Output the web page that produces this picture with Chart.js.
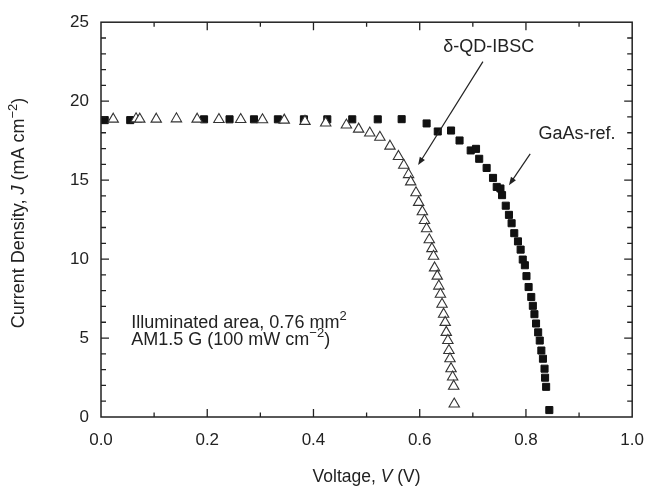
<!DOCTYPE html>
<html>
<head>
<meta charset="utf-8">
<script src="https://cdn.jsdelivr.net/npm/chart.js@4/dist/chart.umd.min.js"></script>
<style>
  body { margin: 0; background: #fff; }
  #wrap { width: 657px; height: 490px; }
</style>
</head>
<body>
<div id="wrap"><canvas id="ivChart"></canvas></div>
<script>
// delta-QD-IBSC (open triangles)
const qdV = [0.023, 0.066, 0.073, 0.104, 0.142, 0.181, 0.222, 0.263, 0.304, 0.345, 0.384, 0.423,
  0.462, 0.485, 0.506, 0.525, 0.544, 0.560, 0.570, 0.579, 0.583, 0.593, 0.598, 0.605, 0.609,
  0.613, 0.618, 0.623, 0.626, 0.628, 0.633, 0.636, 0.639, 0.642, 0.645, 0.648, 0.650, 0.653,
  0.655, 0.657, 0.659, 0.662, 0.664, 0.665];
const qdJ = [18.86, 18.88, 18.86, 18.86, 18.88, 18.86, 18.84, 18.84, 18.82, 18.80, 18.72, 18.62,
  18.49, 18.23, 17.98, 17.71, 17.15, 16.50, 15.94, 15.35, 14.89, 14.20, 13.59, 13.00, 12.44,
  11.92, 11.22, 10.66, 10.18, 9.44, 8.92, 8.29, 7.77, 7.14, 6.51, 5.99, 5.36, 4.84,
  4.21, 3.69, 3.06, 2.53, 1.95, 0.82];

// GaAs reference (filled squares)
const gaasV = [0.007, 0.055, 0.194, 0.242, 0.288, 0.333, 0.382, 0.426, 0.473, 0.521, 0.566, 0.613,
  0.634, 0.659, 0.675, 0.696, 0.706, 0.712, 0.726, 0.738, 0.745, 0.752, 0.755, 0.762, 0.768,
  0.773, 0.778, 0.785, 0.790, 0.794, 0.798, 0.801, 0.805, 0.810, 0.813, 0.816, 0.819, 0.823,
  0.826, 0.829, 0.832, 0.835, 0.836, 0.838, 0.844];
const gaasJ = [18.80, 18.80, 18.85, 18.85, 18.85, 18.85, 18.85, 18.85, 18.85, 18.85, 18.86, 18.59,
  18.08, 18.14, 17.51, 16.88, 16.98, 16.35, 15.77, 15.14, 14.57, 14.47, 14.05, 13.38, 12.80,
  12.27, 11.64, 11.12, 10.60, 9.97, 9.61, 8.92, 8.23, 7.60, 7.04, 6.51, 5.92, 5.36,
  4.84, 4.21, 3.69, 3.06, 2.49, 1.91, 0.44];

// axis ranges / ticks
const xMin = 0, xMax = 1.0, xStep = 0.2, xMinor = 0.1;
const yMin = 0, yMax = 25, yStep = 5, yMinor = 1;

const FONT = "'Liberation Sans', Arial, Helvetica, sans-serif";
const INK = '#222';

const toPts = (xs, ys) => xs.map((v, i) => ({ x: v, y: ys[i] }));

function partFont(p, size) {
  const s = p.sup ? Math.round(size * 0.7) : size;
  return (p.it ? 'italic ' : '') + s + 'px ' + FONT;
}

function richText(ctx, parts, x, y, align, size) {
  let w = 0;
  parts.forEach(p => { ctx.font = partFont(p, size); w += ctx.measureText(p.t).width; });
  let cx = align === 'center' ? x - w / 2 : x;
  ctx.textAlign = 'left';
  ctx.textBaseline = 'middle';
  parts.forEach(p => {
    ctx.font = partFont(p, size);
    ctx.fillText(p.t, cx, p.sup ? y - size * 0.33 : y);
    cx += ctx.measureText(p.t).width;
  });
}

function arrow(ctx, x1, y1, x2, y2) {
  const ang = Math.atan2(y2 - y1, x2 - x1);
  const hl = 8, hw = 3;
  ctx.beginPath();
  ctx.moveTo(x1, y1);
  ctx.lineTo(x2 - Math.cos(ang) * hl * 0.8, y2 - Math.sin(ang) * hl * 0.8);
  ctx.stroke();
  ctx.beginPath();
  ctx.moveTo(x2, y2);
  ctx.lineTo(x2 - Math.cos(ang) * hl - Math.sin(ang) * hw, y2 - Math.sin(ang) * hl + Math.cos(ang) * hw);
  ctx.lineTo(x2 - Math.cos(ang) * hl + Math.sin(ang) * hw, y2 - Math.sin(ang) * hl - Math.cos(ang) * hw);
  ctx.closePath();
  ctx.fill();
}

const framePlugin = {
  id: 'frame',
  afterDraw(chart) {
    const { ctx, chartArea: a, scales: { x, y } } = chart;
    ctx.save();
    ctx.strokeStyle = INK;
    ctx.fillStyle = INK;
    ctx.lineWidth = 1.5;
    ctx.strokeRect(a.left, a.top, a.right - a.left, a.bottom - a.top);

    // inward ticks on all four sides
    ctx.lineWidth = 1.3;
    ctx.beginPath();
    const nx = Math.round((xMax - xMin) / xMinor);
    for (let i = 1; i < nx; i++) {
      const v = xMin + i * xMinor;
      const px = x.getPixelForValue(v);
      const len = i % Math.round(xStep / xMinor) === 0 ? 8 : 4.5;
      ctx.moveTo(px, a.bottom); ctx.lineTo(px, a.bottom - len);
      ctx.moveTo(px, a.top); ctx.lineTo(px, a.top + len);
    }
    const ny = Math.round((yMax - yMin) / yMinor);
    for (let j = 1; j < ny; j++) {
      const v = yMin + j * yMinor;
      const py = y.getPixelForValue(v);
      const len = v % yStep === 0 ? 8 : 5;
      ctx.moveTo(a.left, py); ctx.lineTo(a.left + len, py);
      ctx.moveTo(a.right, py); ctx.lineTo(a.right - len, py);
    }
    ctx.stroke();

    // axis titles
    richText(ctx, [{ t: 'Voltage, ' }, { t: 'V', it: true }, { t: ' (V)' }],
      (a.left + a.right) / 2, 477, 'center', 17.5);
    ctx.save();
    ctx.translate(19, 213);
    ctx.rotate(-Math.PI / 2);
    richText(ctx, [{ t: 'Current Density, ' }, { t: 'J', it: true }, { t: ' (mA cm' },
      { t: '\u22122', sup: true }, { t: ')' }], 0, 0, 'center', 18);
    ctx.restore();

    // annotations
    richText(ctx, [{ t: '\u03b4-QD-IBSC' }], x.getPixelForValue(0.730), y.getPixelForValue(23.45), 'center', 18);
    richText(ctx, [{ t: 'GaAs-ref.' }], x.getPixelForValue(0.896), y.getPixelForValue(17.95), 'center', 18);
    ctx.lineWidth = 1.2;
    arrow(ctx, x.getPixelForValue(0.719), y.getPixelForValue(22.5),
      x.getPixelForValue(0.597), y.getPixelForValue(15.95));
    arrow(ctx, x.getPixelForValue(0.808), y.getPixelForValue(16.66),
      x.getPixelForValue(0.768), y.getPixelForValue(14.68));

    richText(ctx, [{ t: 'Illuminated area, 0.76 mm' }, { t: '2', sup: true }],
      x.getPixelForValue(0.057), y.getPixelForValue(5.97), 'left', 18);
    richText(ctx, [{ t: 'AM1.5 G (100 mW cm' }, { t: '\u22122', sup: true }, { t: ')' }],
      x.getPixelForValue(0.057), y.getPixelForValue(4.90), 'left', 18);
    ctx.restore();
  }
};

Chart.defaults.font.family = FONT;
Chart.defaults.color = INK;

new Chart(document.getElementById('ivChart'), {
  type: 'scatter',
  data: {
    datasets: [
      {
        label: '\u03b4-QD-IBSC',
        data: toPts(qdV, qdJ),
        pointStyle: 'triangle',
        pointRadius: 6,
        pointBorderWidth: 1.1,
        borderColor: '#333',
        backgroundColor: '#fff',
        order: 0
      },
      {
        label: 'GaAs-ref.',
        data: toPts(gaasV, gaasJ),
        pointStyle: 'rect',
        pointRadius: 5,
        pointBorderWidth: 1,
        borderColor: '#111',
        backgroundColor: '#111',
        order: 1
      }
    ]
  },
  options: {
    responsive: true,
    maintainAspectRatio: false,
    animation: false,
    layout: { padding: { top: 19, right: 19, left: 0, bottom: 0 } },
    plugins: { legend: { display: false }, tooltip: { enabled: false } },
    scales: {
      x: {
        type: 'linear',
        min: xMin, max: xMax,
        grid: { display: false, drawTicks: false },
        border: { display: false },
        ticks: {
          stepSize: xStep,
          padding: 13,
          font: { size: 17 },
          color: INK,
          callback: v => v.toFixed(1)
        },
        afterFit: s => { s.height = 73; }
      },
      y: {
        type: 'linear',
        min: yMin, max: yMax,
        grid: { display: false, drawTicks: false },
        border: { display: false },
        ticks: {
          stepSize: yStep,
          padding: 12,
          font: { size: 17 },
          color: INK
        },
        afterFit: s => { s.width = 101; }
      }
    }
  },
  plugins: [framePlugin]
});
</script>
</body>
</html>
